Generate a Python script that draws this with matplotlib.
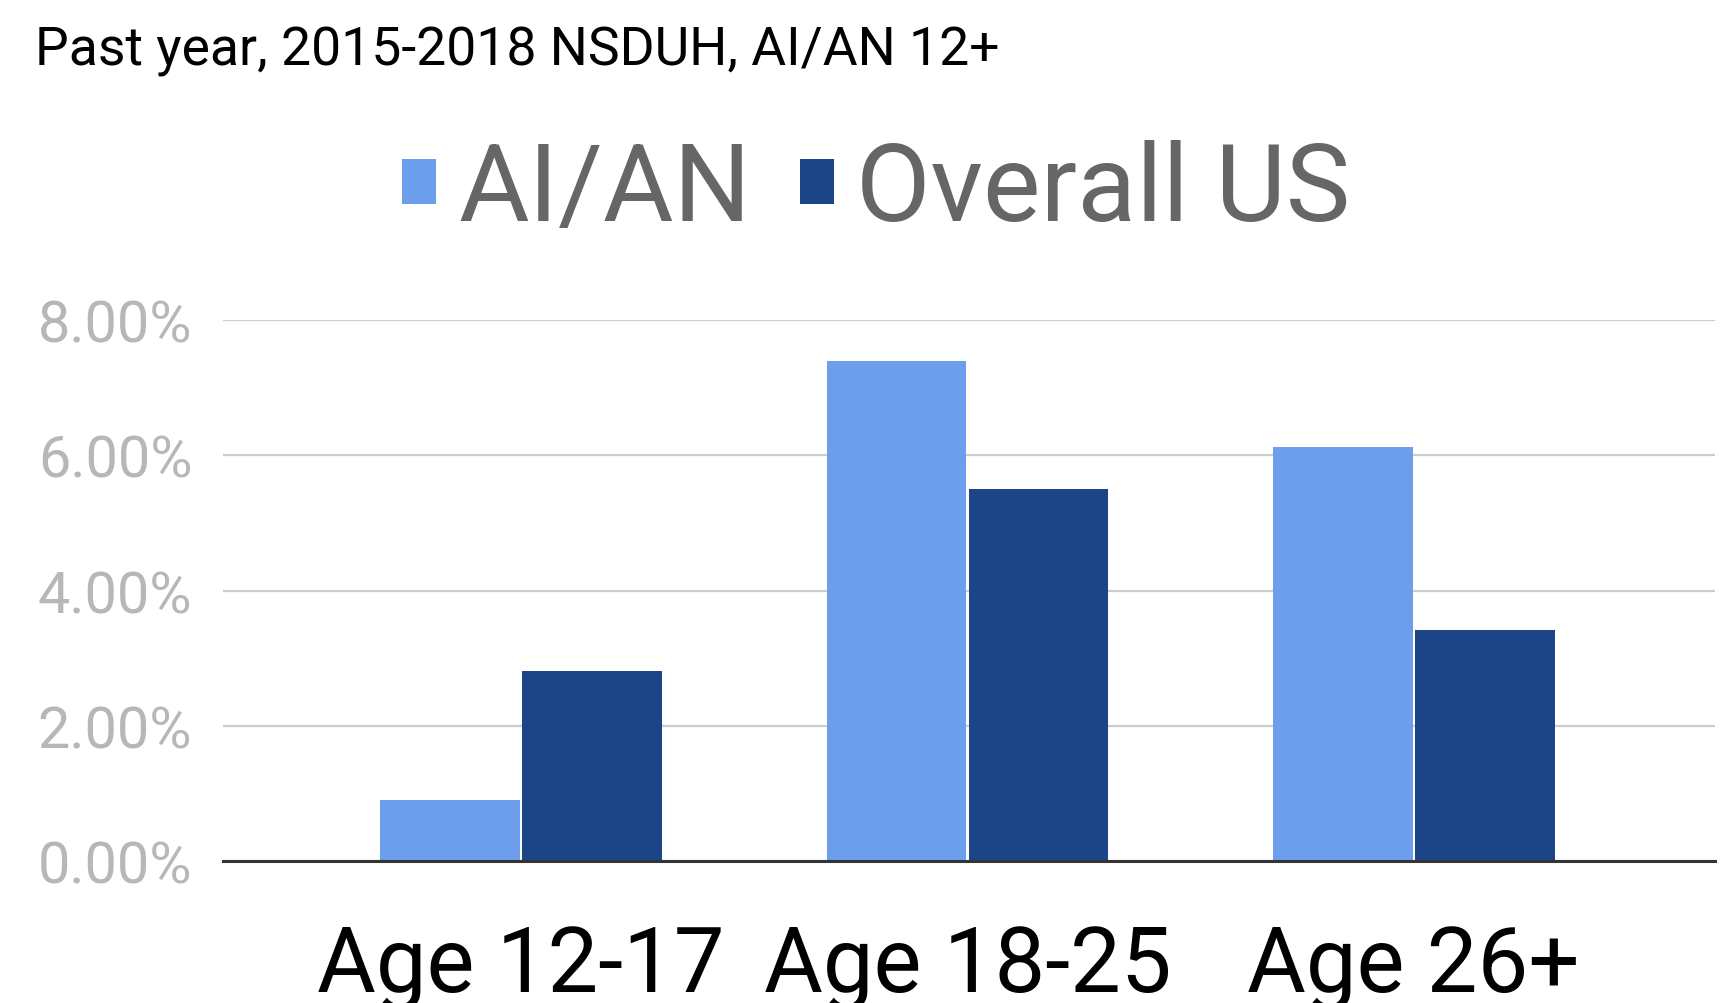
import matplotlib
matplotlib.use("Agg")
import matplotlib.pyplot as plt
from matplotlib.patches import Patch
from matplotlib.ticker import FuncFormatter, FixedLocator
import numpy as np

categories = ["Age 12-17", "Age 18-25", "Age 26+"]
series_names = ["AI/AN", "Overall US"]
aian_values = [0.90, 7.40, 6.12]
overall_values = [2.81, 5.50, 3.42]
y_ticks = [0, 2, 4, 6, 8]
title = "Past year, 2015-2018 NSDUH, AI/AN 12+"

light = "#6d9eeb"
dark = "#1c4587"

plt.rcParams['font.family'] = ['Roboto', 'DejaVu Sans']

fig = plt.figure(figsize=(17.28, 10.04), dpi=100)
ax = fig.add_axes([0.129, 0.1414, 0.8635, 0.5386])

x = np.arange(len(categories))
w = 0.313
ax.bar(x - 0.159, aian_values, width=w, color=light, zorder=3)
ax.bar(x + 0.159, overall_values, width=w, color=dark, zorder=3)

ax.set_xlim(-0.668, 2.675)
ax.set_ylim(0, 8)
ax.yaxis.set_major_locator(FixedLocator(y_ticks))
ax.yaxis.set_major_formatter(FuncFormatter(lambda v, p: f"{v:.2f}%"))
ax.grid(axis='y', color='#cccccc', linewidth=1.6, zorder=0)
ax.set_axisbelow(True)
for s in ['top', 'right', 'left']:
    ax.spines[s].set_visible(False)
ax.spines['bottom'].set_color('#333333')
ax.spines['bottom'].set_linewidth(2.2)
ax.spines['bottom'].set_zorder(4)
ax.tick_params(axis='y', length=0, pad=22, labelsize=41.5, labelcolor='#b7b7b7')
ax.set_xticks(x)
ax.set_xticklabels(categories)
ax.tick_params(axis='x', length=0, pad=45, labelsize=65, labelcolor='#000000')

fig.text(35/1728, 1 - 66/1004, title, fontsize=38.5, color='#000000', va='baseline', ha='left')

handles = [Patch(facecolor=light, edgecolor='none'), Patch(facecolor=dark, edgecolor='none')]
fig.legend(handles, series_names, loc='center', bbox_to_anchor=(0.507, 1 - 192/1004), ncol=2,
           frameon=False, fontsize=78, labelcolor='#666666', handlelength=0.32, handleheight=0.27,
           handletextpad=0.2, columnspacing=0.45, borderpad=0, borderaxespad=0)

fig.savefig("out.png", dpi=100)
